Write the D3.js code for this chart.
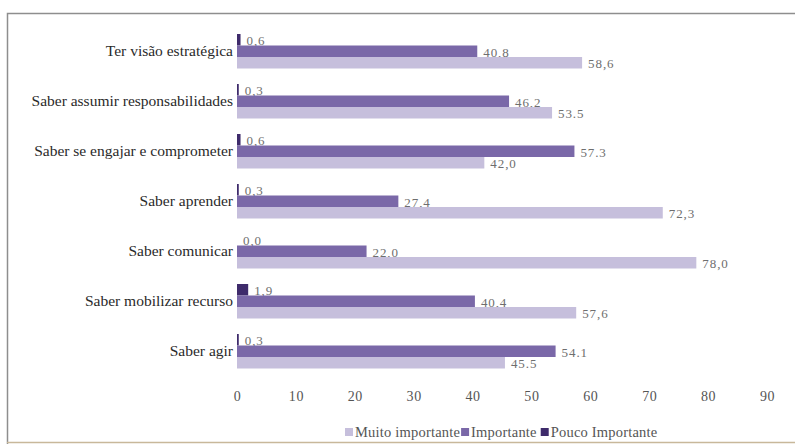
<!DOCTYPE html>
<html>
<head>
<meta charset="utf-8">
<script src="https://cdn.jsdelivr.net/npm/d3@7"></script>
<style>
  html, body { margin: 0; padding: 0; background: #fff; }
  svg { display: block; }
</style>
</head>
<body>
<svg id="chart" width="795" height="444"></svg>
<script>
const categories = [
  "Ter visão estratégica",
  "Saber assumir responsabilidades",
  "Saber se engajar e comprometer",
  "Saber aprender",
  "Saber comunicar",
  "Saber mobilizar recurso",
  "Saber agir"
];
const seriesNames = ["Pouco Importante", "Importante", "Muito importante"];
const pouco = [0.6, 0.3, 0.6, 0.3, 0.0, 1.9, 0.3];
const importante = [40.8, 46.2, 57.3, 27.4, 22.0, 40.4, 54.1];
const muito = [58.6, 53.5, 42.0, 72.3, 78.0, 57.6, 45.5];
const poucoLabels = ["0,6", "0,3", "0,6", "0,3", "0,0", "1,9", "0,3"];
const importanteLabels = ["40,8", "46,2", "57.3", "27,4", "22,0", "40,4", "54.1"];
const muitoLabels = ["58,6", "53.5", "42,0", "72,3", "78,0", "57,6", "45.5"];
const xTicks = [0, 10, 20, 30, 40, 50, 60, 70, 80, 90];
const legendOrder = ["Muito importante", "Importante", "Pouco Importante"];

const colors = {
  "Pouco Importante": "#3e2b6b",
  "Importante": "#7a68a8",
  "Muito importante": "#c6bfdc"
};

const seriesData = {
  "Pouco Importante": { values: pouco, labels: poucoLabels },
  "Importante": { values: importante, labels: importanteLabels },
  "Muito importante": { values: muito, labels: muitoLabels }
};

const svg = d3.select("#chart");
const serif = "'Liberation Serif', 'DejaVu Serif', serif";

// frame
svg.append("path")
  .attr("d", "M7.5,444 L7.5,13.5 L800,13.5")
  .attr("fill", "none").attr("stroke", "#8e8e8e").attr("stroke-width", 1.5);
svg.append("line")
  .attr("x1", 7).attr("x2", 800).attr("y1", 442.5).attr("y2", 442.5)
  .attr("stroke", "#c8b89a").attr("stroke-width", 1.5);

const x = d3.scaleLinear().domain([0, 90]).range([237, 767]);
const y = d3.scaleBand().domain(categories).range([18.5, 384])
  .paddingInner(0.31).paddingOuter(0.31);
const ySub = d3.scaleBand().domain(seriesNames).range([0, y.bandwidth()]);

const groups = svg.append("g").selectAll("g")
  .data(categories).join("g")
  .attr("transform", d => `translate(0,${y(d)})`);

seriesNames.forEach(s => {
  groups.append("rect")
    .attr("x", x(0))
    .attr("y", ySub(s))
    .attr("width", (d, i) => x(seriesData[s].values[i]) - x(0))
    .attr("height", ySub.bandwidth())
    .attr("fill", colors[s]);
  groups.append("text")
    .attr("x", (d, i) => x(seriesData[s].values[i]) + 6)
    .attr("y", ySub(s) + ySub.bandwidth() / 2 + 1)
    .attr("dy", "0.35em")
    .style("font-family", serif)
    .style("font-size", "13px")
    .style("letter-spacing", "0.9px")
    .attr("fill", "#6e6e6e")
    .text((d, i) => seriesData[s].labels[i]);
});

// category labels
groups.append("text")
  .attr("x", 233)
  .attr("y", ySub("Importante") + ySub.bandwidth() / 2 - 1)
  .attr("dy", "0.35em")
  .attr("text-anchor", "end")
  .style("font-family", serif)
  .style("font-size", "15.5px")
  .attr("fill", "#2a2a2a")
  .text(d => d);

// x axis (labels only)
const axis = d3.axisBottom(x).tickValues(xTicks).tickSize(0).tickPadding(0)
  .tickFormat(d3.format("d"));
const ax = svg.append("g").attr("transform", "translate(0,391)").call(axis);
ax.select(".domain").remove();
ax.selectAll("text")
  .style("font-family", serif)
  .style("font-size", "14px")
  .style("letter-spacing", "0.6px")
  .attr("fill", "#555");

// legend
const leg = svg.append("g").attr("transform", "translate(345,432)");
let lx = 0;
legendOrder.forEach((s, i) => {
  leg.append("rect").attr("x", lx).attr("y", -4).attr("width", 8).attr("height", 8)
    .attr("fill", colors[s]);
  const t = leg.append("text").attr("x", lx + 10).attr("y", 0).attr("dy", "0.35em")
    .style("font-family", serif).style("font-size", "14.5px")
    .style("letter-spacing", "0.2px")
    .attr("fill", "#555")
    .text(s);
  lx += 10 + t.node().getComputedTextLength() + (i === 0 ? 1 : 4);
});
</script>
</body>
</html>
